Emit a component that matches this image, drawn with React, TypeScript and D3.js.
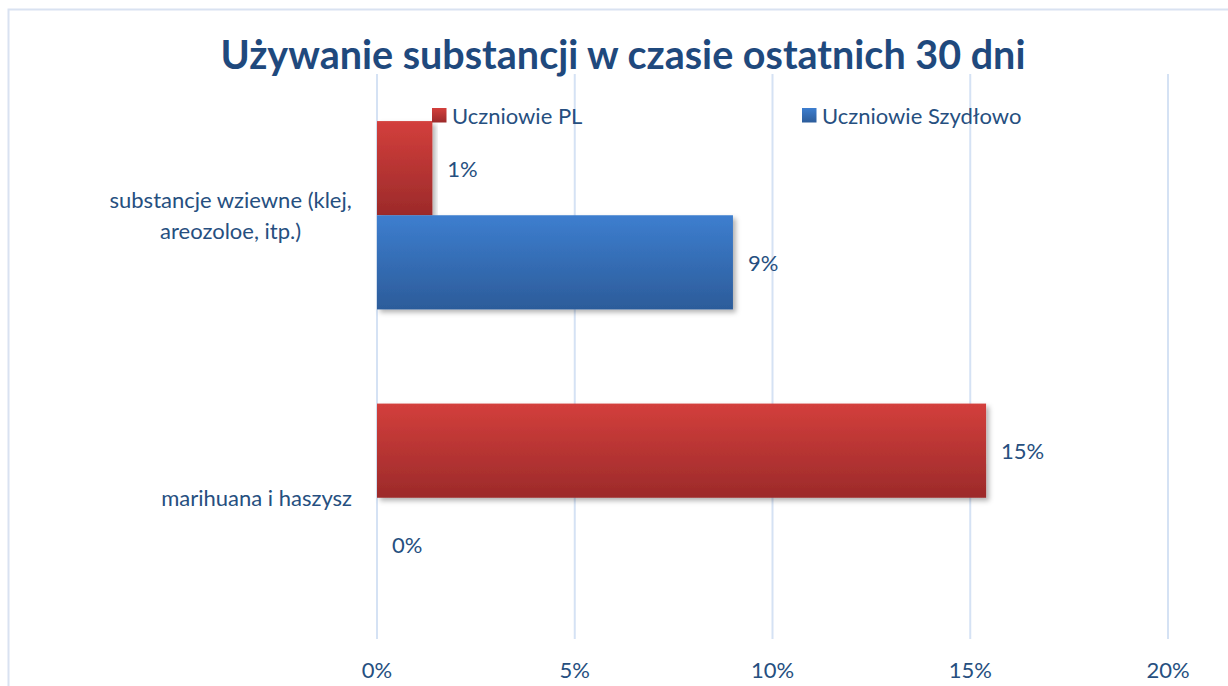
import React from "react";
import * as d3 from "d3";

// Chart data
const categories = ["substancje wziewne (klej,\nareozoloe, itp.)", "marihuana i haszysz"];
const seriesNames = ["Uczniowie PL", "Uczniowie Szydłowo"];
const valuesPL = [0.014, 0.154];
const valuesSzydlowo = [0.09, 0.0];
const tickValues = [0, 0.05, 0.1, 0.15, 0.2];

const W = 1228;
const H = 686;
const FONT = "Lato, 'Open Sans', sans-serif";
const TEXT = "#264F80";
const TITLE = "#1F497D";
const GRID = "#D5E2F4";

const seriesValues = [valuesPL, valuesSzydlowo];
const gradIds = ["gradRed", "gradBlue"];

function measure(text: string, font: string): number {
  const c = document.createElement("canvas").getContext("2d");
  if (!c) return text.length * 10;
  c.font = font;
  return c.measureText(text).width;
}

export default function App() {
  const x = d3.scaleLinear().domain([0, 0.2]).range([377, 1168]);
  const y = d3
    .scaleBand<string>()
    .domain(categories)
    .range([74, 639])
    .paddingInner(1 / 3)
    .paddingOuter(1 / 6);
  const ySub = d3
    .scaleBand<string>()
    .domain(seriesNames)
    .range([0, y.bandwidth()]);
  const pct = d3.format(".0%");
  const labelFont = `22px ${FONT}`;

  return (
    <svg
      width={W}
      height={H}
      style={{ position: "fixed", left: 0, top: 0, background: "#fff" }}
      fontFamily={FONT}
    >
      <defs>
        <linearGradient id="gradRed" x1="0" y1="0" x2="0" y2="1">
          <stop offset="0" stopColor="#D33F3C" />
          <stop offset="1" stopColor="#9C2A2A" />
        </linearGradient>
        <linearGradient id="gradBlue" x1="0" y1="0" x2="0" y2="1">
          <stop offset="0" stopColor="#3D7ECF" />
          <stop offset="1" stopColor="#2C5C9A" />
        </linearGradient>
        <filter id="barShadow" x="-5%" y="-10%" width="115%" height="130%">
          <feDropShadow dx="3" dy="3" stdDeviation="2.5" floodColor="#000" floodOpacity="0.3" />
        </filter>
      </defs>

      {/* chart area frame */}
      <rect x={8.5} y={9.5} width={1240} height={700} fill="#fff" stroke="#D9E2F1" strokeWidth={2} />

      {/* title */}
      <text x={623} y={69} textAnchor="middle" fontSize={39.5} fontWeight={700} fill={TITLE}>
        Używanie substancji w czasie ostatnich 30 dni
      </text>

      {/* vertical gridlines */}
      {tickValues.map((t) => (
        <line key={t} x1={x(t)} x2={x(t)} y1={74} y2={639} stroke={GRID} strokeWidth={2} />
      ))}

      {/* bars */}
      {categories.map((cat, ci) =>
        seriesNames.map((s, si) => {
          const v = seriesValues[si][ci];
          const y0 = (y(cat) ?? 0) + (ySub(s) ?? 0);
          const h = ySub.bandwidth();
          return (
            <g key={cat + s}>
              {v > 0 && (
                <rect
                  x={x(0)}
                  y={y0}
                  width={x(v) - x(0)}
                  height={h}
                  fill={`url(#${gradIds[si]})`}
                  filter="url(#barShadow)"
                />
              )}
              <text
                x={x(v) + 15}
                y={y0 + h / 2}
                dominantBaseline="central"
                fontSize={22}
                fill={TEXT}
              >
                {pct(v)}
              </text>
            </g>
          );
        })
      )}

      {/* category labels */}
      {categories.map((cat) => {
        const lines = cat.split("\n");
        const maxW = Math.max(...lines.map((l) => measure(l, labelFont)));
        const cx = 352 - maxW / 2;
        const cy = (y(cat) ?? 0) + y.bandwidth() / 2;
        const lh = 31;
        return (
          <text key={cat} x={cx} textAnchor="middle" fontSize={22} fill={TEXT}>
            {lines.map((l, i) => (
              <tspan
                key={i}
                x={cx}
                y={cy + (i - (lines.length - 1) / 2) * lh}
                dominantBaseline="central"
              >
                {l}
              </tspan>
            ))}
          </text>
        );
      })}

      {/* x axis tick labels */}
      {tickValues.map((t) => (
        <text key={t} x={x(t)} y={669} textAnchor="middle" dominantBaseline="central" fontSize={22} fill={TEXT}>
          {pct(t)}
        </text>
      ))}

      {/* legend */}
      {seriesNames.map((s, si) => {
        const lx = [432, 802][si];
        return (
          <g key={s}>
            <rect x={lx} y={108} width={14.5} height={14.5} fill={`url(#${gradIds[si]})`} />
            <text x={lx + 20} y={115} dominantBaseline="central" fontSize={22} fill={TEXT}>
              {s}
            </text>
          </g>
        );
      })}
    </svg>
  );
}
